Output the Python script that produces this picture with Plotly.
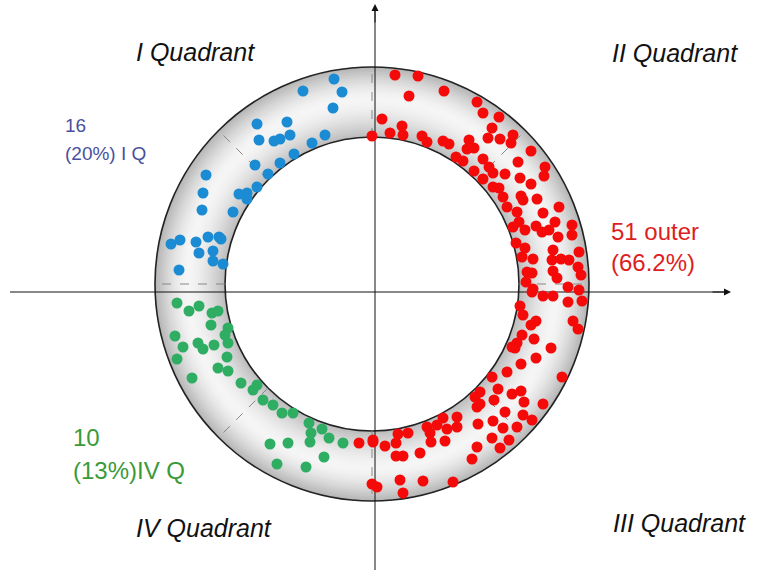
import plotly.graph_objects as go
import math

# ---- data (chart coordinates: origin at the axes crossing, y up) ----
blue_x = [-41, -33, -72, -42, -118, -88, -116, -101, -95, -85, -50, -63, -81, -95, -120, -107,
          -169, -118, -172, -136, -128, -128, -173, -142, -204, -195, -179, -167, -156, -154,
          -176, -162, -162, -152, -196]
blue_y = [213, 200, 201, 184, 168, 170, 152, 151, 153, 157, 157, 149, 138, 129, 127, 118,
          117, 105, 99, 98, 99, 93, 82, 80, 48, 52, 50, 55, 55, 53,
          39, 41, 31, 28, 22]

green_x = [-198, -186, -176, -163, -157, -164, -147, -150, -200, -177, -192, -172, -161, -147,
           -148, -198, -157, -147, -183, -134, -122, -118, -112, -102, -93, -82, -66, -64, -53,
           -65, -46, -32, -105, -87, -51, -98, -69]
green_y = [-11, -19, -14, -21, -19, -33, -36, -43, -44, -51, -55, -57, -53, -51,
           -65, -67, -76, -79, -86, -91, -98, -93, -108, -113, -121, -121, -131, -141, -137,
           -150, -146, -151, -152, -151, -165, -172, -175]

red_x = [20, 43, 34, 69, 7, 27, 15, 28, 47, 52, 68, 74, 102, 108, 124, 117, 138, 113, 125, 136,
         94, 92, 99, 81, 88, 156, 143, 108, 114, 99, 118, 170, 169, 130, 108, 145, 118, 124, 156,
         128, 146, 148, 162, 132, 142, 184, 168, 180, 138, 144, 150, 161, 167, 174, 197, 197, 141,
         183, 150, 178, 204, 147, 158, 177, 186, 194, 203, 178, 152, 157, 182, 206, 151, 193, 204,
         158, 168, 178, -3,
         157, 193, 207, 145, 148, 156, 161, 198, 203, 147, 159, 142, 137, 140, 176, 161, 146, 132,
         187, 117, 123, 146, 137, 105, 100, 119, 149, 168, 102, 105, 130, 148, 157, 82, 68, 118,
         103, 142, 128, 82, 72, 52, 62, 55, 33, 23, 117, 134, 70, 56, 21, 10, -2, 102, 125, 45,
         21, 28, 97, 25, 48, 78, 28, -16, -2, -3, 2]
red_y = [217, 216, 196, 201, 173, 166, 159, 157, 156, 150, 151, 148, 190, 179, 175, 164, 157,
         154, 153, 149, 152, 143, 144, 135, 131, 141, 130, 133, 125, 121, 119, 125, 116, 118, 113,
         114, 105, 104, 108, 95, 96, 92, 93, 85, 80, 85, 79, 70, 65, 70, 62, 66, 60, 62, 67, 57,
         49, 55, 44, 42, 40, 35, 33, 32, 33, 32, 25, 21, 20, 19, 14, 17, 10, 5, 2, 3, -4, -4, 156,
         0, -10, -9, -14, -23, -33, -29, -29, -37, -43, -47, -51, -55, -56, -56, -66, -72, -80,
         -85, -85, -97, -99, -102, -100, -105, -108, -110, -112, -115, -112, -120, -123, -128,
         -125, -126, -129, -132, -135, -136, -135, -137, -135, -133, -141, -141, -142, -146, -148,
         -149, -150, -151, -154, -148, -155, -156, -161, -164, -164, -167, -188, -189, -190, -201,
         -151, -150, -192, -195]

quadrant_labels = ["I Quadrant", "II Quadrant", "III Quadrant", "IV Quadrant"]
blue_note = ["16", "(20%) I Q"]
red_note = ["51 outer", "(66.2%)"]
green_note = ["10", "(13%)IV Q"]

# ---- geometry / style ----
CX, CY = -3, 8          # ring centre
R_OUT, R_IN = 217, 147

BLUE = "#1b8bd3"
GREEN = "#2fad63"
RED = "#f50a0a"

fig = go.Figure()

shapes = []
N = 28
for i in range(N):
    r = R_OUT - i * (R_OUT - R_IN) / N
    t = (r - R_IN) / (R_OUT - R_IN)          # 0 inner .. 1 outer
    d = abs(t - 0.55) / 0.55 if t < 0.55 else abs(t - 0.55) / 0.45
    g = int(246 - 62 * d ** 1.6)
    shapes.append(dict(type="circle", xref="x", yref="y", layer="below",
                       x0=CX - r, x1=CX + r, y0=CY - r, y1=CY + r,
                       fillcolor=f"rgb({g},{g},{g})", line=dict(width=0)))
shapes.append(dict(type="circle", xref="x", yref="y", layer="below",
                   x0=CX - R_IN, x1=CX + R_IN, y0=CY - R_IN, y1=CY + R_IN,
                   fillcolor="white", line=dict(color="#222", width=1.6)))
shapes.append(dict(type="circle", xref="x", yref="y", layer="below",
                   x0=CX - R_OUT, x1=CX + R_OUT, y0=CY - R_OUT, y1=CY + R_OUT,
                   line=dict(color="#222", width=1.6)))
for k in range(8):
    a = math.radians(45 * k)
    shapes.append(dict(type="line", xref="x", yref="y", layer="below",
                       x0=CX + R_IN * math.cos(a), y0=CY + R_IN * math.sin(a),
                       x1=CX + R_OUT * math.cos(a), y1=CY + R_OUT * math.sin(a),
                       line=dict(color="#888", width=1, dash="dash")))
shapes.append(dict(type="line", xref="x", yref="y", layer="below",
                   x0=-365, y0=0, x1=350, y1=0, line=dict(color="#111", width=1)))
shapes.append(dict(type="line", xref="x", yref="y", layer="below",
                   x0=0, y0=-278, x1=0, y1=283, line=dict(color="#111", width=1)))

for xs, ys, c in [(blue_x, blue_y, BLUE), (green_x, green_y, GREEN), (red_x, red_y, RED)]:
    fig.add_trace(go.Scatter(x=xs, y=ys, mode="markers",
                             marker=dict(color=c, size=11, line=dict(width=0)),
                             showlegend=False, hoverinfo="skip"))

ann = []
ann.append(dict(x=356, y=0, ax=336, ay=0, xref="x", yref="y", axref="x", ayref="y",
                text="", showarrow=True, arrowhead=2, arrowsize=1.4, arrowwidth=1,
                arrowcolor="#111"))
ann.append(dict(x=0, y=288, ax=0, ay=268, xref="x", yref="y", axref="x", ayref="y",
                text="", showarrow=True, arrowhead=2, arrowsize=1.4, arrowwidth=1,
                arrowcolor="#111"))

qfont = dict(family="Liberation Sans, Arial, sans-serif", size=25, color="#111")
qpos = [(-180, 240), (300, 239), (304, -231), (-171, -236)]
for lab, (x, y) in zip(quadrant_labels, qpos):
    ann.append(dict(x=x, y=y, xref="x", yref="y", text=f"<i>{lab}</i>", showarrow=False,
                    font=qfont, xanchor="center", yanchor="middle"))

def note(lines, x, ys, color, size):
    for t, y in zip(lines, ys):
        ann.append(dict(x=x, y=y, xref="x", yref="y", text=t, showarrow=False,
                        font=dict(family="Liberation Sans, Arial, sans-serif", size=size, color=color),
                        xanchor="left", yanchor="middle"))

note(blue_note, -312, [167, 139], "#4a4f9e", 19)
note(red_note, 234, [61, 30], "#dd1e1e", 24)
note(green_note, -304, [-145, -178], "#3a9a3a", 24)

fig.update_layout(
    width=759, height=579, autosize=False,
    margin=dict(l=0, r=0, t=0, b=0, pad=0),
    paper_bgcolor="white", plot_bgcolor="white",
    xaxis=dict(range=[-375, 384], visible=False, fixedrange=True),
    yaxis=dict(range=[-287, 292], visible=False, fixedrange=True),
    shapes=shapes, annotations=ann,
)

fig.write_html("out.html")
